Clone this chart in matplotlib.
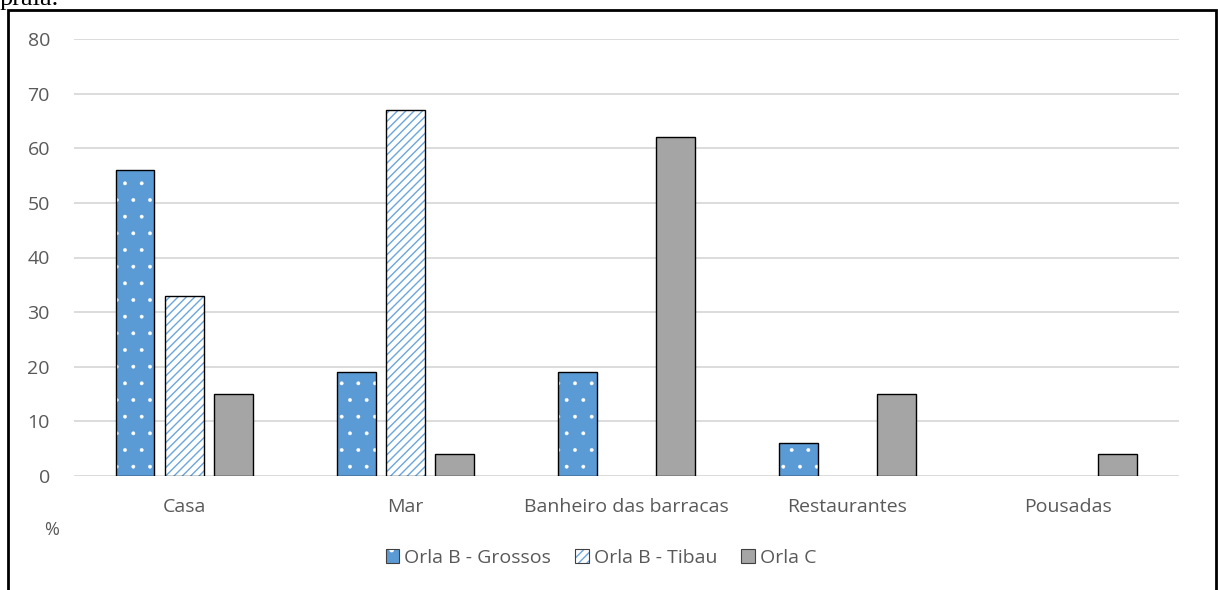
import matplotlib
matplotlib.use("Agg")
import matplotlib.pyplot as plt
from matplotlib.patches import Patch, Rectangle
from matplotlib.legend_handler import HandlerTuple
import numpy as np

categories = ["Casa", "Mar", "Banheiro das barracas", "Restaurantes", "Pousadas"]
series_names = ["Orla B - Grossos", "Orla B - Tibau", "Orla C"]
grossos = [56, 19, 19, 6, 0]
tibau = [33, 67, 0, 0, 0]
orla_c = [15, 4, 62, 15, 4]
yticks = [0, 10, 20, 30, 40, 50, 60, 70, 80]

plt.rcParams['font.family'] = ['Open Sans', 'DejaVu Sans']

W, H = 1218, 590
fig = plt.figure(figsize=(W/100, H/100), dpi=100)
ax = fig.add_axes([73.5/W, 1-476/H, (1179-73.5)/W, (476-39)/H])

x = np.arange(len(categories))
bw = 0.176
off = 0.222
blue = "#5b9bd5"
gray = "#a5a5a5"
tick_color = '#595959'
fs = 14

styles = [
    dict(face=blue, hatch='.', hcolor='white', hlw=0.3),
    dict(face='white', hatch='////', hcolor='#6aa6dc', hlw=1.0),
    dict(face=gray, hatch=None, hcolor=None, hlw=1.0),
]


def hatched(st, **kw):
    with plt.rc_context({'hatch.linewidth': st['hlw']}):
        p = Patch(**kw)
    try:
        p.set_hatch_linewidth(st['hlw'])
    except Exception:
        pass
    return p


data = [grossos, tibau, orla_c]
for i, (vals, st) in enumerate(zip(data, styles)):
    xs = x + (i-1)*off
    vals = np.array(vals, dtype=float)
    mask = vals > 0
    if st['hatch']:
        with plt.rc_context({'hatch.linewidth': st['hlw']}):
            bars = ax.bar(xs[mask], vals[mask], bw, color=st['face'], hatch=st['hatch'],
                          edgecolor=st['hcolor'], linewidth=0, zorder=3)
        for b in bars:
            try:
                b.set_hatch_linewidth(st['hlw'])
            except Exception:
                pass
        ax.bar(xs[mask], vals[mask], bw, fill=False, edgecolor='black',
               linewidth=1.0, zorder=4)
    else:
        ax.bar(xs[mask], vals[mask], bw, color=st['face'], edgecolor='black',
               linewidth=1.0, zorder=3)

ax.set_xlim(-0.5, len(categories)-0.5)
ax.set_ylim(0, 80)
ax.set_yticks(yticks)
ax.set_xticks(x)
ax.set_xticklabels(categories)
ax.yaxis.grid(True, color='#d9d9d9', linewidth=1.3, zorder=0)
ax.set_axisbelow(True)
for s in ax.spines.values():
    s.set_visible(False)
ax.tick_params(axis='both', length=0, labelsize=fs, colors=tick_color)
ax.tick_params(axis='y', pad=17)
ax.tick_params(axis='x', pad=16)

fig.text(52/W, 1-530/H, "%", ha='center', va='center', fontsize=fs-1, color=tick_color)

# legend
handles = []
for st in styles:
    if st['hatch']:
        h1 = hatched(st, facecolor=st['face'], edgecolor=st['hcolor'], hatch=st['hatch'], linewidth=0)
        h2 = Patch(fill=False, edgecolor='#404040', linewidth=0.8)
        handles.append((h1, h2))
    else:
        handles.append(Patch(facecolor=st['face'], edgecolor='#404040', linewidth=0.8))
leg = fig.legend(handles, series_names, loc='center', bbox_to_anchor=(601/W, 1-558/H),
                 ncol=3, frameon=False, fontsize=fs, handlelength=0.7, handleheight=0.7,
                 handletextpad=0.25, columnspacing=1.25, labelcolor=tick_color,
                 handler_map={tuple: HandlerTuple(ndivide=1, pad=0)})

# outer frame
fig.patches.append(Rectangle((8/W, -0.02), (1216-8)/W, 1-10/H+0.02, transform=fig.transFigure,
                             fill=False, edgecolor='black', linewidth=2, zorder=10))
fig.text(0.0, 1-5/H, "praia.", ha='left', va='baseline', fontsize=19,
         family=['Liberation Serif', 'DejaVu Serif'], color='black')

fig.savefig("out.png", dpi=100)
